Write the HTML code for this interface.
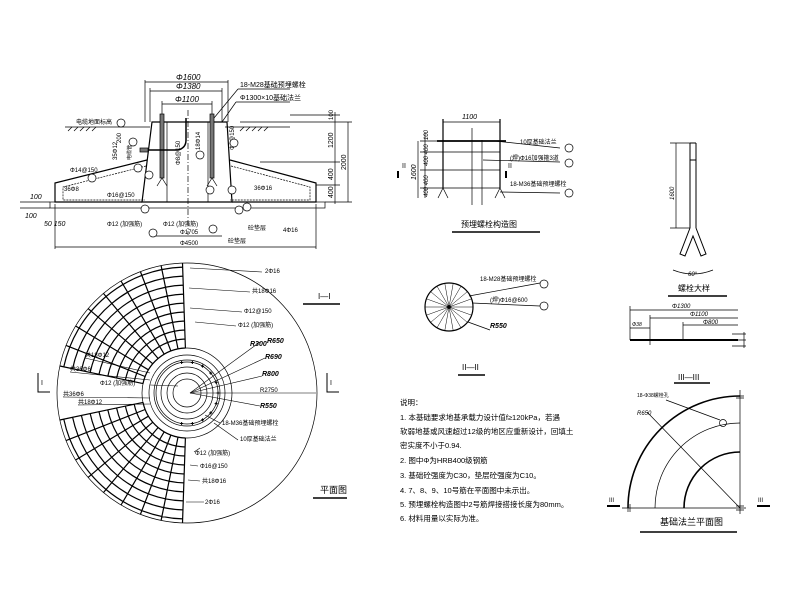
<!DOCTYPE html>
<html><head><meta charset="utf-8"><style>
html,body{margin:0;padding:0;background:#fff;width:800px;height:601px;overflow:hidden}
svg{display:block}
text{font-family:"Liberation Sans","Noto Sans CJK SC",sans-serif;fill:#000}
</style></head><body>
<svg id="s" width="800" height="601" viewBox="0 0 800 601" xmlns="http://www.w3.org/2000/svg" stroke="#000" fill="none" stroke-width="0.7">
<g id="sec">
<line x1="65" y1="127" x2="150" y2="127"/><line x1="225" y1="127" x2="290" y2="127"/>
<path d="M68 131 l4 -4 M74 131 l4 -4 M80 131 l4 -4 M86 131 l4 -4 M92 131 l4 -4 M240 131 l4 -4 M246 131 l4 -4 M252 131 l4 -4 M258 131 l4 -4 M264 131 l4 -4"/>
<path d="M152 122 L227 122 L232 202 L142 202 Z" stroke-width="1.2"/>
<line x1="167" y1="122" x2="167" y2="202"/><line x1="208" y1="122" x2="208" y2="202"/>
<path d="M147 160 L55 183 L55 202 L142 202" stroke-width="1.2"/>
<path d="M230 160 L316 183 L316 202 L232 202" stroke-width="1.2"/>
<path d="M146 166 L63 187 L63 200 L145 200 M231 166 L310 187 L310 200 L230 200" stroke-dasharray="2 1"/>
<rect x="50" y="202" width="275" height="6"/>
<line x1="20" y1="202" x2="50" y2="202"/><line x1="20" y1="208" x2="50" y2="208"/>
<rect x="160" y="114" width="4" height="64" fill="#777"/><rect x="210" y="114" width="4" height="64" fill="#777"/>
<path d="M162 178 l-5 8 M162 178 l5 8 M212 178 l-5 8 M212 178 l5 8"/>
<path d="M186 118 L186 140 Q186 148 178 150 L145 150" stroke-width="1.5"/>
<rect x="140" y="148" width="8" height="4" fill="#777"/>
<line x1="188" y1="110" x2="188" y2="235" stroke-dasharray="6 2 1 2"/>
<line x1="145" y1="82" x2="228" y2="82"/><line x1="150" y1="91" x2="222" y2="91"/><line x1="162" y1="104" x2="212" y2="104"/>
<line x1="145" y1="80" x2="145" y2="122"/><line x1="228" y1="80" x2="228" y2="122"/>
<line x1="150" y1="88" x2="150" y2="122"/><line x1="222" y1="88" x2="222" y2="122"/>
<line x1="162" y1="101" x2="162" y2="114"/><line x1="212" y1="101" x2="212" y2="114"/>
<text x="176" y="80" font-size="8" stroke="none" font-style="italic">Φ1600</text>
<text x="176" y="89" font-size="8" stroke="none" font-style="italic">Φ1380</text>
<text x="175" y="102" font-size="8" stroke="none" font-style="italic">Φ1100</text>
<line x1="214" y1="118" x2="238" y2="89"/><line x1="238" y1="89" x2="290" y2="89"/>
<line x1="222" y1="122" x2="236" y2="102"/><line x1="236" y1="102" x2="290" y2="102"/>
<text x="240" y="87" font-size="7" stroke="none">18-M28基础预埋螺栓</text>
<text x="240" y="100" font-size="7" stroke="none">Φ1300×10基础法兰</text>
<text x="76" y="124" font-size="6" stroke="none">电缆地面标高</text>
<line x1="152" y1="236" x2="222" y2="236"/><line x1="55" y1="247" x2="316" y2="247"/>
<line x1="55" y1="204" x2="55" y2="249"/><line x1="316" y1="204" x2="316" y2="249"/>
<text x="180" y="234" font-size="6" stroke="none">Φ1705</text>
<text x="180" y="245" font-size="6" stroke="none">Φ4500</text>
<text x="163" y="226" font-size="6" stroke="none">Φ12 (加强筋)</text>
<text x="107" y="226" font-size="6" stroke="none">Φ12 (加强筋)</text>
<text x="107" y="197" font-size="6" stroke="none">Φ16@150</text>
<text x="64" y="191" font-size="6" stroke="none">36Φ8</text>
<text x="70" y="172" font-size="6" stroke="none">Φ14@150</text>
<text x="254" y="190" font-size="6" stroke="none">36Φ16</text>
<text x="283" y="232" font-size="6" stroke="none">4Φ16</text>
<text x="248" y="230" font-size="6" stroke="none">砼垫层</text>
<text x="228" y="243" font-size="6" stroke="none">砼垫层</text>
<text x="30" y="199" font-size="7" stroke="none" font-style="italic">100</text>
<text x="25" y="218" font-size="7" stroke="none" font-style="italic">100</text>
<text x="44" y="226" font-size="7" stroke="none" font-style="italic">50 150</text>
<line x1="335" y1="112" x2="335" y2="204"/><line x1="348" y1="122" x2="348" y2="202"/>
<path d="M290 115 H340 M240 122 H352 M260 162 H340 M316 185 H340 M325 202 H352"/>
<text transform="translate(333 148) rotate(-90)" font-size="7" stroke="none">1200</text>
<text transform="translate(333 180) rotate(-90)" font-size="7" stroke="none">400</text>
<text transform="translate(333 198) rotate(-90)" font-size="7" stroke="none">400</text>
<text transform="translate(346 170) rotate(-90)" font-size="7" stroke="none">2000</text>
<text transform="translate(333 120) rotate(-90)" font-size="6" stroke="none">100</text>
<text transform="translate(121 143) rotate(-90)" font-size="6" stroke="none">200</text>
<text transform="translate(117 160) rotate(-90)" font-size="6" stroke="none">35Φ12</text>
<text transform="translate(180 165) rotate(-90)" font-size="6" stroke="none">Φ8@150</text>
<text transform="translate(200 150) rotate(-90)" font-size="6" stroke="none">18Φ14</text>
<text transform="translate(234 150) rotate(-90)" font-size="6" stroke="none">Φ8@150</text>
<text transform="translate(131 160) rotate(-90)" font-size="5" stroke="none">电缆管</text>
</g>
<g id="circ1" fill="#fff"></g>
<g id="plan"></g>
<text x="265" y="273" font-size="6" stroke="none">2Φ16</text>
<text x="252" y="293" font-size="6" stroke="none">共18Φ16</text>
<text x="244" y="313" font-size="6" stroke="none">Φ12@150</text>
<text x="238" y="327" font-size="6" stroke="none">Φ12 (加强筋)</text>
<text x="250" y="346" font-size="7" stroke="none" font-style="italic" font-weight="bold">R300</text>
<text x="267" y="343" font-size="7" stroke="none" font-style="italic" font-weight="bold">R650</text>
<text x="265" y="359" font-size="7" stroke="none" font-style="italic" font-weight="bold">R690</text>
<text x="262" y="376" font-size="7" stroke="none" font-style="italic" font-weight="bold">R800</text>
<text x="260" y="392" font-size="6" stroke="none">R2750</text>
<text x="260" y="408" font-size="7" stroke="none" font-style="italic" font-weight="bold">R550</text>
<text x="222" y="425" font-size="6" stroke="none">18-M36基础预埋螺栓</text>
<text x="240" y="441" font-size="6" stroke="none">10厚基础法兰</text>
<text x="195" y="455" font-size="6" stroke="none">Φ12 (加强筋)</text>
<text x="200" y="468" font-size="6" stroke="none">Φ16@150</text>
<text x="202" y="483" font-size="6" stroke="none">共18Φ16</text>
<text x="205" y="504" font-size="6" stroke="none">2Φ16</text>
<text x="85" y="357" font-size="6" stroke="none">共18Φ12</text>
<text x="70" y="371" font-size="6" stroke="none">共36Φ6</text>
<text x="100" y="385" font-size="6" stroke="none">Φ12 (加强筋)</text>
<text x="63" y="396" font-size="6" stroke="none">共36Φ6</text>
<text x="78" y="404" font-size="6" stroke="none">共18Φ12</text>
<text x="318" y="299" font-size="8" stroke="none">I—I</text><line x1="303" y1="304" x2="340" y2="304" stroke-width="1.5"/>
<text x="320" y="493" font-size="9" stroke="none">平面图</text><line x1="313" y1="498" x2="347" y2="498" stroke-width="1.5"/>
<path d="M38 373 V392 H50 M327 373 V392 H339" stroke-width="1"/>
<text x="41" y="385" font-size="7" stroke="none">I</text><text x="330" y="385" font-size="7" stroke="none">I</text>
<path d="M443 119 V188 M500 119 V188" stroke-width="1.2"/>
<line x1="437" y1="141" x2="506" y2="141" stroke-width="1.8"/>
<path d="M443 152 H500 M443 170 H500 M443 188 H500"/>
<path d="M472 128 V205 M482 140 V205"/>
<path d="M443 188 l-5 10 M443 188 l5 10 M500 188 l-5 10 M500 188 l5 10"/>
<line x1="443" y1="122" x2="500" y2="122"/><text x="462" y="119" font-size="7" stroke="none" font-style="italic">1100</text>
<line x1="418" y1="141" x2="418" y2="198"/>
<path d="M425 133 V198 M420 141 H443 M420 152 H443 M420 170 H443 M420 188 H443"/>
<text transform="translate(416 180) rotate(-90)" font-size="7" stroke="none" font-style="italic">1600</text>
<text transform="translate(428 140) rotate(-90)" font-size="6" stroke="none" font-style="italic">100</text>
<text transform="translate(428 166) rotate(-90)" font-size="6" stroke="none" font-style="italic">400 400</text>
<text transform="translate(428 197) rotate(-90)" font-size="6" stroke="none" font-style="italic">400 400</text>
<path d="M398 171 V178 M506 171 V178" stroke-width="2"/>
<text x="402" y="168" font-size="7" stroke="none">II</text><text x="508" y="168" font-size="7" stroke="none">II</text>
<line x1="495" y1="141" x2="560" y2="148"/><line x1="483" y1="160" x2="560" y2="162"/><line x1="500" y1="192" x2="560" y2="193"/>
<text x="520" y="144" font-size="6" stroke="none">10厚基础法兰</text>
<text x="510" y="160" font-size="6" stroke="none">(焊)Φ16加强箍3道</text>
<text x="510" y="186" font-size="6" stroke="none">18-M36基础预埋螺栓</text>
<circle cx="569" cy="148" r="4"/><circle cx="569" cy="163" r="4"/><circle cx="569" cy="193" r="4"/>
<text x="461" y="227" font-size="8" stroke="none">预埋螺栓构造图</text><line x1="452" y1="232" x2="540" y2="232" stroke-width="1.5"/>
<circle cx="449" cy="307" r="24" stroke-width="1.2"/>
<g id="spokes"></g>
<line x1="469" y1="296" x2="540" y2="283"/><line x1="472" y1="303" x2="540" y2="306"/><line x1="468" y1="322" x2="490" y2="330"/>
<text x="480" y="281" font-size="6" stroke="none">18-M28基础预埋螺栓</text>
<text x="490" y="302" font-size="6" stroke="none">(焊)Φ16@600</text>
<text x="490" y="328" font-size="7" stroke="none" font-style="italic" font-weight="bold">R550</text>
<circle cx="544" cy="284" r="4"/><circle cx="544" cy="306" r="4"/>
<text x="462" y="370" font-size="8" stroke="none">II—II</text><line x1="458" y1="375" x2="485" y2="375" stroke-width="1.5"/>
<path d="M690 143 V228 M696 143 V228 M690 143 H696 M690 160 H696" stroke-width="1"/>
<path d="M690 228 L680 254 L685 256 L693 236 L701 256 L706 254 L696 228" stroke-width="1"/>
<line x1="670" y1="143" x2="690" y2="143"/><line x1="670" y1="228" x2="690" y2="228"/><line x1="676" y1="143" x2="676" y2="228"/>
<text transform="translate(674 200) rotate(-90)" font-size="6" stroke="none" font-style="italic">1600</text>
<path d="M673 270 Q693 278 713 270"/><text x="688" y="276" font-size="6" stroke="none" font-style="italic">60°</text>
<text x="678" y="291" font-size="8" stroke="none">螺栓大样</text><line x1="668" y1="296" x2="727" y2="296" stroke-width="1.5"/>
<line x1="630" y1="340" x2="738" y2="340" stroke-width="2"/>
<path d="M630 310 H738 M650 318 H738 M683 325 H738 M630 328 H650 M630 306 V340 M650 315 V345 M683 322 V340"/>
<text x="672" y="308" font-size="6" stroke="none" font-style="italic">Φ1300</text>
<text x="690" y="316" font-size="6" stroke="none" font-style="italic">Φ1100</text>
<text x="703" y="324" font-size="6" stroke="none" font-style="italic">Φ800</text>
<text x="632" y="326" font-size="5" stroke="none" font-style="italic">Φ38</text>
<path d="M732 334 H746 M732 340 H746 M732 346 H746 M744 332 V348"/>
<text x="678" y="380" font-size="8" stroke="none">III—III</text><line x1="674" y1="383" x2="710" y2="383" stroke-width="1.5"/>
<path d="M628 508 A112 112 0 0 1 740 396" stroke-width="1.6"/>
<path d="M684 508 A56 56 0 0 1 740 452" stroke-width="1.6"/>
<path d="M655 508 A85 85 0 0 1 740 423"/>
<path d="M740 390 V514 M622 508 H746"/>
<path d="M628 504 V512 M630 504 V512 M736 396 H744 M736 398 H744 M736 506 H744 M736 510 H744"/>
<line x1="647" y1="412" x2="740" y2="508"/>
<circle cx="723" cy="423" r="3.5"/><line x1="720" y1="420" x2="666" y2="400"/>
<text x="637" y="397" font-size="5" stroke="none">18-Φ38螺栓孔</text>
<text x="637" y="415" font-size="6" stroke="none" font-style="italic">R650</text>
<path d="M607 506 H620 M757 506 H770" stroke-width="2"/>
<text x="609" y="502" font-size="6" stroke="none">III</text><text x="758" y="502" font-size="6" stroke="none">III</text>
<text x="660" y="525" font-size="9" stroke="none">基础法兰平面图</text><line x1="640" y1="532" x2="737" y2="532" stroke-width="1.5"/>
<g font-size="7.5" stroke="none">
<text x="400" y="405">说明：</text>
<text x="400" y="420">1. 本基础要求地基承载力设计值f≥120kPa，若遇</text>
<text x="400" y="434">软弱地基或风速超过12级的地区应重新设计，回填土</text>
<text x="400" y="448">密实度不小于0.94.</text>
<text x="400" y="463">2. 图中Φ为HRB400级钢筋</text>
<text x="400" y="478">3. 基础砼强度为C30，垫层砼强度为C10。</text>
<text x="400" y="493">4. 7、8、9、10号筋在平面图中未示出。</text>
<text x="400" y="507">5. 预埋螺栓构造图中2号筋焊接搭接长度为80mm。</text>
<text x="400" y="521">6. 材料用量以实际为准。</text>
</g>
</svg>
<script>
var NS="http://www.w3.org/2000/svg";
function el(p,t,a){var e=document.createElementNS(NS,t);for(var k in a)e.setAttribute(k,a[k]);p.appendChild(e);return e;}
var plan=document.getElementById('plan');
var cx=187,cy=393,R=130;
el(plan,'circle',{cx:cx,cy:cy,r:R});
[14,20,26,31,33,38,45].forEach(function(r){el(plan,'circle',{cx:cx,cy:cy,r:r});});
function sector(a0,a1){
  var d='';
  for(var r=45;r<=R;r+=9){
    var x0=cx+r*Math.cos(a0),y0=cy-r*Math.sin(a0),x1=cx+r*Math.cos(a1),y1=cy-r*Math.sin(a1);
    d+='M'+x0.toFixed(1)+' '+y0.toFixed(1)+' A'+r+' '+r+' 0 0 1 '+x1.toFixed(1)+' '+y1.toFixed(1)+' ';
  }
  var n=Math.abs(Math.round((a1-a0)/(Math.PI/18)));
  for(var i=0;i<=n;i++){
    var a=a0+(a1-a0)*i/n;
    d+='M'+(cx+45*Math.cos(a)).toFixed(1)+' '+(cy-45*Math.sin(a)).toFixed(1)+' L'+(cx+R*Math.cos(a)).toFixed(1)+' '+(cy-R*Math.sin(a)).toFixed(1)+' ';
  }
  el(plan,'path',{d:d,'stroke-width':1.2});
}
var D=Math.PI/180;
sector(168*D,92*D);
sector(268*D,192*D);
for(var i=0;i<18;i++){var a=i*20*D;var x=cx+31*Math.cos(a),y=cy-31*Math.sin(a);
 if(a>100*D&&a<260*D)continue;
 el(plan,'path',{d:'M'+(x-1.5)+' '+y+' h3 M'+x+' '+(y-1.5)+' v3','stroke-width':1});}
var L=[[190,268,262,272],[189,288,250,292],[190,308,242,312],[195,322,236,326],[190,393,260,342],[190,393,265,358],[190,393,262,376],[190,393,316,393],[190,393,260,406],[205,415,220,423],[214,423,238,440],[200,448,194,452],[190,465,198,466],[188,480,200,481],[186,502,204,502],[150,373,85,358],[150,380,70,372],[178,386,150,385],[150,398,63,397],[150,404,78,405]];
L.forEach(function(l){el(plan,'line',{x1:l[0],y1:l[1],x2:l[2],y2:l[3],'stroke-width':0.6});});
var sp=document.getElementById('spokes');var d='';
for(var i=0;i<18;i++){var a=i*20*D;d+='M449 307 L'+(449+24*Math.cos(a)).toFixed(1)+' '+(307+24*Math.sin(a)).toFixed(1)+' ';}
el(sp,'path',{d:d,'stroke-width':0.5});
el(sp,'circle',{cx:449,cy:307,r:1.5,fill:'#000'});
var c1=document.getElementById('circ1');
[[121,123],[138,168],[145,209],[92,178],[149,175],[247,207],[234,143],[153,233],[213,229],[200,155],[232,190],[210,190],[239,210],[133,142]].forEach(function(p){el(c1,'circle',{cx:p[0],cy:p[1],r:4});});
</script>
</body></html>
